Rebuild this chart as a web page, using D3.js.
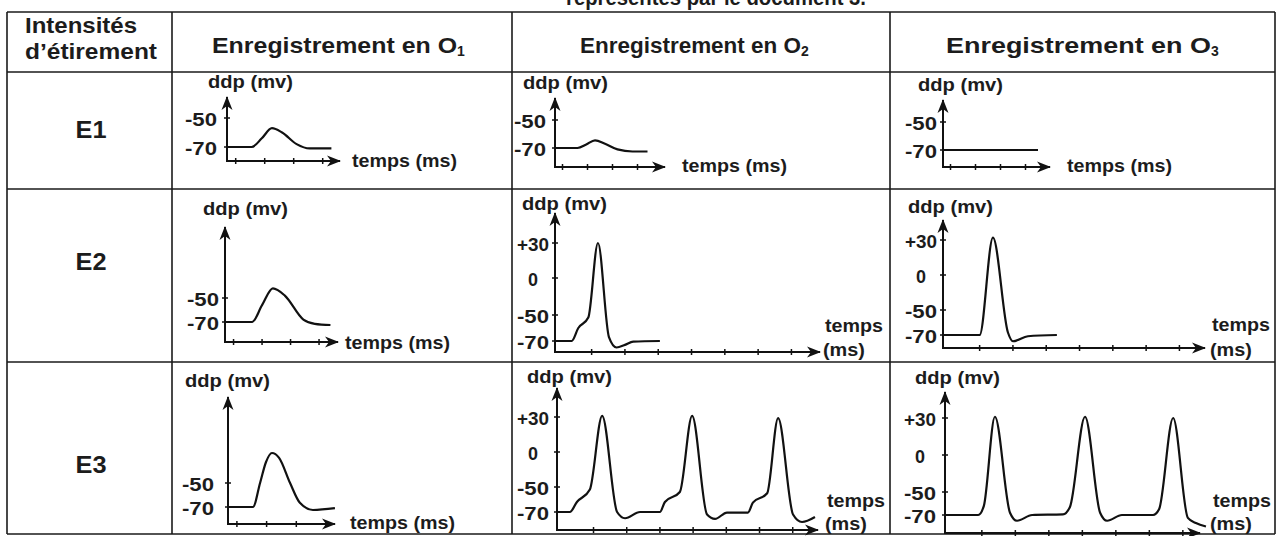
<!DOCTYPE html>
<html>
<head>
<meta charset="utf-8">
<script src="https://cdn.jsdelivr.net/npm/d3@7"></script>
<style>
  body { margin: 0; background: #fff; }
  text { font-family: "Liberation Sans", Arial, sans-serif; font-weight: bold; fill: #1c1c1c; }
</style>
</head>
<body>
<div id="my_dataviz"></div>
<script>

var rowNames = ["E1", "E2", "E3"];
var colNames = ["Enregistrement en O", "Enregistrement en O", "Enregistrement  en  O"];
var colSubs = ["1", "2", "3"];

var yTicksLow = [-70, -50];
var yTicksHigh = [-70, -50, 0, 30];
var xTicksShort = [0.3, 1.3, 2.3, 3.3];
var xTicksLong = [1.1, 2.1, 3.1, 4.1, 5.1, 6.1, 7.1];

// time in tick units, ddp in mV
var e1o1_t = [0, 0.85, 1.2, 1.55, 1.9, 2.4, 2.85, 3.6];
var e1o1_v = [-70, -70, -64, -57, -60, -68, -71, -71];
var e1o2_t = [0, 0.9, 1.25, 1.6, 2.0, 2.5, 3.1, 3.7];
var e1o2_v = [-70, -70, -67.5, -64.5, -67, -71, -72.5, -72.5];
var e1o3_t = [0, 3.8];
var e1o3_v = [-70, -70];

var e2o1_t = [0, 0.95, 1.3, 1.68, 2.1, 2.75, 3.15, 3.7];
var e2o1_v = [-70, -70, -56, -42, -48, -68, -71.5, -72.5];
var e2o2_t = [0, 0.5, 0.7, 1.0, 1.29, 1.62, 1.85, 2.1, 2.35, 3.15];
var e2o2_v = [-70, -70, -60, -52, 30, -67, -75, -73, -70.5, -70];
var e2o3_t = [0, 1.1, 1.5, 1.95, 2.1, 2.55, 3.42];
var e2o3_v = [-70, -70, 32, -68, -75, -71, -70];

var e3o1_t = [0, 0.84, 1.08, 1.28, 1.48, 1.72, 2.09, 2.42, 2.86, 3.6];
var e3o1_v = [-70, -70, -50, -32.5, -25, -29, -50, -66.5, -72.5, -71];
var e3o2_t = [0, 0.39, 0.6, 0.99, 1.36, 1.81, 2.05, 2.5, 3.1, 3.25, 3.7, 4.07, 4.52, 4.76, 5.12, 5.75, 5.9, 6.33, 6.66, 7.11, 7.38, 7.77];
var e3o2_v = [-70, -70, -62, -52, 31, -70, -75, -70, -70, -62, -54, 31, -72, -75.5, -70.5, -70.5, -62.5, -55, 29, -72, -78, -74];
var e3o3_t = [0, 0.99, 1.16, 1.49, 1.94, 2.15, 2.6, 3.52, 3.73, 4.18, 4.63, 4.84, 5.28, 6.21, 6.39, 6.81, 7.25, 7.49, 7.79];
var e3o3_v = [-70, -70, -62, 31, -68, -75, -70, -69.5, -63, 31, -68, -75, -70, -70, -65, 30, -72.5, -77, -80];

var tickText = {"-70": "-70", "-50": "-50", "0": "0", "30": "+30"};

// ---- where each little graph sits inside the table ----
var panels = [
  {t: e1o1_t, v: e1o1_v, ax: 227, ay: 161, sp: 29,   tip: 340,  top: 97,  yPx: [147, 118], lx: 201, ddp: [208, 88],  temps: [352, 167]},
  {t: e1o2_t, v: e1o2_v, ax: 555, ay: 167, sp: 25,   tip: 665,  top: 98,  yPx: [148, 120], lx: 530, ddp: [523, 89],  temps: [682, 172]},
  {t: e1o3_t, v: e1o3_v, ax: 943, ay: 167, sp: 25,   tip: 1050, top: 100, yPx: [150, 122], lx: 921, ddp: [918, 91],  temps: [1067, 172]},
  {t: e2o1_t, v: e2o1_v, ax: 225, ay: 342, sp: 28.5, tip: 338,  top: 227, yPx: [322, 298], lx: 203, ddp: [203, 215], temps: [345, 349]},
  {t: e2o2_t, v: e2o2_v, ax: 555, ay: 352, sp: 33.3, tip: 820,  top: 213, yPx: [341, 315, 278, 243], lx: 533, ddp: [522, 210], temps2: [825, 332, 823, 356]},
  {t: e2o3_t, v: e2o3_v, ax: 943, ay: 348, sp: 33.3, tip: 1205, top: 220, yPx: [335, 310, 275, 240], lx: 921, ddp: [908, 213], temps2: [1212, 331, 1210, 356]},
  {t: e3o1_t, v: e3o1_v, ax: 228, ay: 524, sp: 29.7, tip: 335,  top: 397, yPx: [507, 483], lx: 198, ddp: [185, 387], temps: [350, 529]},
  {t: e3o2_t, v: e3o2_v, ax: 557, ay: 530, sp: 33.2, tip: 818,  top: 388, yPx: [512, 487, 452, 417], lx: 533, ddp: [527, 383], temps2: [827, 507, 825, 530]},
  {t: e3o3_t, v: e3o3_v, ax: 945, ay: 533, sp: 33.5, tip: 1200, top: 392, yPx: [515, 492, 455, 418], lx: 920, ddp: [915, 384], temps2: [1213, 507, 1210, 530]}
];

var width = 1284, height = 536;

var svg = d3.select("#my_dataviz")
  .append("svg")
    .attr("width", width)
    .attr("height", height);

svg.append("rect").attr("width", width).attr("height", height).attr("fill", "#fff");

// arrow head
svg.append("defs").append("marker")
    .attr("id", "arrow")
    .attr("viewBox", "0 -6 14 12")
    .attr("refX", 13)
    .attr("refY", 0)
    .attr("markerUnits", "userSpaceOnUse")
    .attr("markerWidth", 14)
    .attr("markerHeight", 12)
    .attr("orient", "auto")
  .append("path")
    .attr("d", "M0,-5.5L14,0L0,5.5L4,0Z")
    .attr("fill", "#111");

// small helper for stretched text (the scan's font is a bit wider)
function label(x, y, txt, size, len, anchor) {
  var t = svg.append("text")
    .attr("x", x)
    .attr("y", y)
    .style("font-size", size + "px")
    .attr("text-anchor", anchor || "start")
    .text(txt);
  if (len) t.attr("textLength", len).attr("lengthAdjust", "spacingAndGlyphs");
  return t;
}

// line of text above the table, cut by the scan
label(566, 5, "représentés par le document 3.", 22, 300);

// ---- table grid ----
var grid = svg.append("g").attr("stroke", "#1a1a1a").attr("stroke-width", 1.6).attr("fill", "none");
var colX = [7, 172, 512, 890, 1275];
var rowY = [12, 72, 189, 362, 534];
rowY.forEach(function(y) {
  grid.append("line").attr("x1", colX[0]).attr("x2", colX[4]).attr("y1", y).attr("y2", y);
});
colX.forEach(function(x) {
  grid.append("line").attr("x1", x).attr("x2", x).attr("y1", rowY[0]).attr("y2", rowY[4]);
});

// header
label(25, 33, "Intensités", 22, 112);
label(25, 59, "d’étirement", 22, 132);
var headX = [[212, 245, 457], [580, 221, 801], [946, 265, 1211]];
colNames.forEach(function(name, i) {
  label(headX[i][0], 53, name, 22, headX[i][1]);
  label(headX[i][2], 56, colSubs[i], 14);
});

// row labels
var rowBase = [138, 270, 473];
rowNames.forEach(function(name, i) {
  label(91, rowBase[i], name, 23, 31, "middle");
});

// ---- the nine recordings ----
var line = d3.line()
  .x(function(d) { return d.x; })
  .y(function(d) { return d.y; })
  .curve(d3.curveMonotoneX);

panels.forEach(function(p) {
  var ticks = p.yPx.length === 4 ? yTicksHigh : yTicksLow;
  var xt = p.yPx.length === 4 ? xTicksLong : xTicksShort;

  var x = d3.scaleLinear().domain([0, 1]).range([p.ax, p.ax + p.sp]);
  var y = d3.scaleLinear().domain(ticks).range(p.yPx);

  var g = svg.append("g");

  // axes with arrow heads
  g.append("line")
    .attr("x1", p.ax).attr("y1", p.ay + 1)
    .attr("x2", p.ax).attr("y2", p.top)
    .attr("stroke", "#111").attr("stroke-width", 2)
    .attr("marker-end", "url(#arrow)");
  g.append("line")
    .attr("x1", p.ax - 1).attr("y1", p.ay)
    .attr("x2", p.tip).attr("y2", p.ay)
    .attr("stroke", "#111").attr("stroke-width", 2)
    .attr("marker-end", "url(#arrow)");

  // ticks
  g.selectAll("yt").data(ticks).enter().append("line")
    .attr("x1", p.ax - 3).attr("x2", p.ax + 3)
    .attr("y1", function(d) { return y(d); })
    .attr("y2", function(d) { return y(d); })
    .attr("stroke", "#111").attr("stroke-width", 1.5);
  g.selectAll("xt").data(xt).enter().append("line")
    .attr("x1", function(d) { return x(d); })
    .attr("x2", function(d) { return x(d); })
    .attr("y1", p.ay - 3).attr("y2", p.ay + 3)
    .attr("stroke", "#111").attr("stroke-width", 1.5);

  // tick labels
  ticks.forEach(function(d) {
    var s = tickText[String(d)];
    label(p.lx, y(d) + 8, s, 18, s.length > 1 ? 32 : 10, "middle");
  });

  // axis titles
  label(p.ddp[0], p.ddp[1], "ddp (mv)", 18, 85);
  if (p.temps) {
    label(p.temps[0], p.temps[1], "temps (ms)", 18, 105);
  } else {
    label(p.temps2[0], p.temps2[1], "temps", 18, 58);
    label(p.temps2[2], p.temps2[3], "(ms)", 18, 42);
  }

  // recording
  var pts = p.t.map(function(t, i) { return {x: x(t), y: y(p.v[i])}; });
  g.append("path")
    .datum(pts)
    .attr("d", line)
    .attr("fill", "none")
    .attr("stroke", "#111")
    .attr("stroke-width", 2.2)
    .attr("stroke-linejoin", "round");
});

</script>
</body>
</html>
